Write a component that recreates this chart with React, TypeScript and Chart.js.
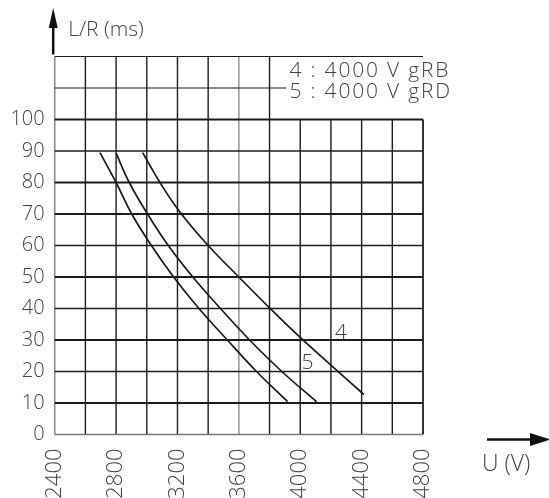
import React, { useEffect, useRef } from "react";
import { Chart, registerables } from "chart.js";

Chart.register(...registerables);

// ---- Data ----
const leftCurveU = [2695, 2800, 2902, 3030, 3175, 3340, 3525, 3715, 3918];
const leftCurveLR = [89.5, 80, 70, 60, 50, 40, 30, 20, 10.4];

const curve5U = [2800, 2886, 3005, 3140, 3300, 3480, 3670, 3880, 4106];
const curve5LR = [89.3, 80, 70, 60, 50, 40, 30, 20, 10.4];

const curve4U = [2973, 3086, 3212, 3400, 3600, 3800, 4000, 4200, 4415];
const curve4LR = [89.5, 80, 70.9, 60, 50, 40.2, 30.8, 22, 12.7];

const xTickLabels = [2400, 2800, 3200, 3600, 4000, 4400, 4800];
const yTickLabels = [0, 10, 20, 30, 40, 50, 60, 70, 80, 90, 100];

const xGridValues = [2400, 2600, 2800, 3000, 3200, 3400, 3600, 3800, 4000, 4200, 4400, 4600, 4800];
const yGridValues = [0, 10, 20, 30, 40, 50, 60, 70, 80, 90, 100, 110, 120];

const legendLines = ["4 : 4000 V gRB", "5 : 4000 V gRD"];
const curveLabels = [
  { text: "4", u: 4226, lr: 30 },
  { text: "5", u: 4009, lr: 20.4 },
];

const FONT = '"Open Sans", "DejaVu Sans", sans-serif';
const TEXT_COLOR = "#424242";
const LINE_COLOR = "#1c1c1c";

const toPoints = (xs: number[], ys: number[]) => xs.map((x, i) => ({ x, y: ys[i] }));

const decorPlugin = {
  id: "decor",
  beforeDatasetsDraw(chart: any) {
    const { ctx, scales } = chart;
    const xs = scales.x;
    const ys = scales.y;
    ctx.save();
    ctx.lineCap = "butt";
    // vertical grid lines
    xGridValues.forEach((v) => {
      const px = xs.getPixelForValue(v);
      const top = ys.getPixelForValue(v <= 3800 ? 120 : 100);
      const bottom = ys.getPixelForValue(0);
      let color = LINE_COLOR;
      let w = 1.4;
      if (v === 2400) { color = "#8a8a8a"; w = 1.6; }
      if (v === 3600) { color = "#8a8a8a"; w = 1.4; }
      if (v === 4800) { w = 1.8; }
      ctx.strokeStyle = color;
      ctx.lineWidth = w;
      ctx.beginPath();
      ctx.moveTo(px, top);
      ctx.lineTo(px, bottom);
      ctx.stroke();
    });
    // horizontal grid lines
    yGridValues.forEach((v) => {
      const py = ys.getPixelForValue(v);
      const left = xs.getPixelForValue(2400);
      const right = xs.getPixelForValue(v === 110 ? 3910 : 4800);
      let color = LINE_COLOR;
      let w = 1.4;
      if (v === 0) { color = "#7a7a7a"; w = 1.6; }
      if ([10, 30, 50, 70, 80, 100].includes(v)) w = 2;
      if (v === 110 || v === 120) w = 1.1;
      ctx.strokeStyle = color;
      ctx.lineWidth = w;
      ctx.beginPath();
      ctx.moveTo(left, py);
      ctx.lineTo(right, py);
      ctx.stroke();
    });
    ctx.restore();
  },
  afterDraw(chart: any) {
    const { ctx, scales, chartArea } = chart;
    const xs = scales.x;
    const ys = scales.y;
    ctx.save();
    ctx.fillStyle = TEXT_COLOR;
    ctx.textBaseline = "alphabetic";
    ctx.textAlign = "left";

    // legend text
    ctx.font = `300 21px ${FONT}`;
    try { (ctx as any).letterSpacing = "1.8px"; } catch (e) {}
    const lx = xs.getPixelForValue(3930);
    ctx.fillText(legendLines[0], lx, ys.getPixelForValue(113.6));
    ctx.fillText(legendLines[1], lx, ys.getPixelForValue(106.9));
    try { (ctx as any).letterSpacing = "0px"; } catch (e) {}

    // curve labels
    ctx.font = `300 21px ${FONT}`;
    curveLabels.forEach((c) => {
      ctx.fillText(c.text, xs.getPixelForValue(c.u), ys.getPixelForValue(c.lr) - 1);
    });

    // y axis title and arrow
    const ax = chartArea.left - 1.5;
    ctx.strokeStyle = "#111";
    ctx.fillStyle = "#111";
    ctx.lineWidth = 2.5;
    ctx.beginPath();
    ctx.moveTo(ax, chartArea.top - 2);
    ctx.lineTo(ax, 26);
    ctx.stroke();
    ctx.beginPath();
    ctx.moveTo(ax, 8);
    ctx.lineTo(ax - 4.5, 28);
    ctx.lineTo(ax + 4.5, 28);
    ctx.closePath();
    ctx.fill();
    ctx.fillStyle = TEXT_COLOR;
    ctx.font = `300 21px ${FONT}`;
    ctx.fillText("L/R (ms)", ax + 15, 36);

    // x axis title and arrow
    const ay = chartArea.bottom + 5;
    ctx.strokeStyle = "#111";
    ctx.fillStyle = "#111";
    ctx.lineWidth = 2.5;
    ctx.beginPath();
    ctx.moveTo(487, ay);
    ctx.lineTo(533, ay);
    ctx.stroke();
    ctx.beginPath();
    ctx.moveTo(551, ay);
    ctx.lineTo(530, ay - 6.5);
    ctx.lineTo(530, ay + 6.5);
    ctx.closePath();
    ctx.fill();
    ctx.fillStyle = TEXT_COLOR;
    ctx.font = `300 23px ${FONT}`;
    ctx.fillText("U (V)", 482, ay + 31);

    ctx.restore();
  },
};

export default function App() {
  const canvasRef = useRef<HTMLCanvasElement | null>(null);

  useEffect(() => {
    const canvas = canvasRef.current;
    if (!canvas) return;
    const lineStyle = {
      borderColor: "#1a1a1a",
      borderWidth: 1.7,
      pointRadius: 0,
      fill: false,
      tension: 0.4,
    };
    const chart = new Chart(canvas, {
      type: "line",
      data: {
        datasets: [
          { label: "left", data: toPoints(leftCurveU, leftCurveLR), ...lineStyle },
          { label: "5", data: toPoints(curve5U, curve5LR), ...lineStyle },
          { label: "4", data: toPoints(curve4U, curve4LR), ...lineStyle },
        ],
      },
      options: {
        animation: false,
        responsive: false,
        maintainAspectRatio: false,
        layout: { padding: { top: 56.5, right: 126, bottom: 0, left: 0 } },
        plugins: {
          legend: { display: false },
          tooltip: { enabled: false },
          title: { display: false },
        },
        scales: {
          x: {
            type: "linear",
            min: 2400,
            max: 4800,
            grid: { display: false, drawTicks: false },
            border: { display: false },
            afterBuildTicks: (scale: any) => {
              scale.ticks = xTickLabels.map((v) => ({ value: v }));
            },
            afterFit: (scale: any) => {
              scale.height = 63.5;
            },
            ticks: {
              minRotation: 90,
              maxRotation: 90,
              padding: 14,
              color: TEXT_COLOR,
              font: { family: FONT, size: 22, weight: "300" },
              callback: (v: any) => String(v),
            },
          },
          y: {
            type: "linear",
            min: 0,
            max: 120,
            grid: { display: false, drawTicks: false },
            border: { display: false },
            afterBuildTicks: (scale: any) => {
              scale.ticks = yTickLabels.map((v) => ({ value: v }));
            },
            afterFit: (scale: any) => {
              scale.width = 54.7;
            },
            ticks: {
              padding: 10,
              color: TEXT_COLOR,
              font: { family: FONT, size: 20, weight: "300" },
              callback: (v: any) => String(v),
            },
          },
        },
      },
      plugins: [decorPlugin],
    });
    return () => chart.destroy();
  }, []);

  return (
    <div style={{ position: "fixed", left: 0, top: 0, width: 549, height: 498, background: "#fff" }}>
      <canvas ref={canvasRef} width={549} height={498} style={{ width: 549, height: 498, display: "block" }} />
    </div>
  );
}
